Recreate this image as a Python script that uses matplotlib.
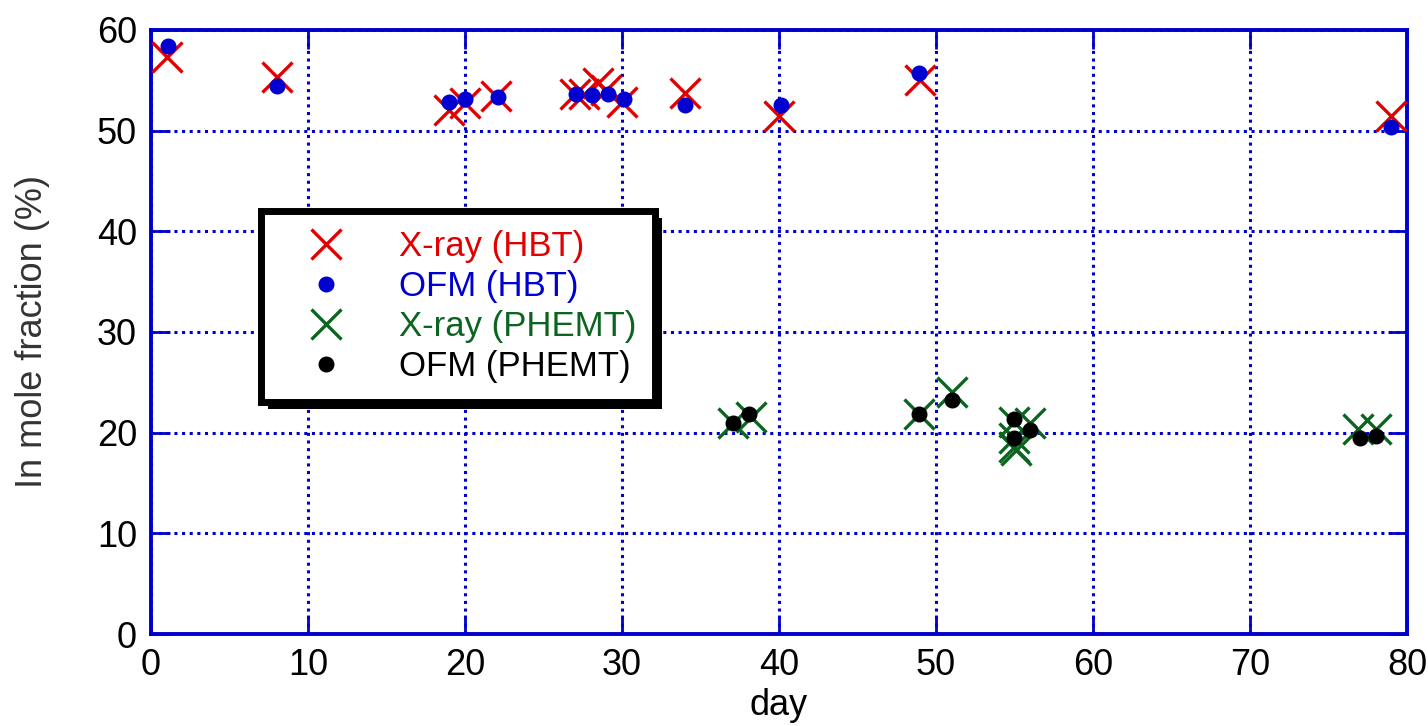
import matplotlib as mpl
mpl.use('Agg')
from matplotlib import pyplot as plt
from matplotlib.patches import Rectangle

plt.rcParams['font.family'] = ['Liberation Sans', 'DejaVu Sans']

# X-ray and OFM measurements of In mole fraction, HBT wafers
xray_hbt_day = [1, 8, 19, 20, 22, 27, 27.6, 28.5, 29, 30, 34, 40, 49, 79]
xray_hbt = [57.3, 55.3, 52.1, 52.7, 53.4, 53.6, 53.6, 54.7, 54.0, 52.8, 53.7, 51.5, 55.0, 51.5]
ofm_hbt_day = [1.1, 8, 19, 20, 22.1, 27.1, 28.1, 29.1, 30.1, 34, 40.1, 48.9, 79]
ofm_hbt = [58.4, 54.4, 52.8, 53.1, 53.3, 53.6, 53.5, 53.6, 53.1, 52.5, 52.5, 55.7, 50.4]

# PHEMT wafers
xray_phemt_day = [37.1, 38.2, 48.9, 51.0, 55.0, 56.0, 55.0, 55.0, 55.1, 76.9, 78.0]
xray_phemt = [21.0, 21.6, 21.9, 24.0, 21.1, 21.0, 19.5, 18.6, 18.3, 20.4, 20.4]
ofm_phemt_day = [37.1, 38.1, 48.9, 51.0, 55.0, 56.0, 55.0, 77.0, 78.0]
ofm_phemt = [21.0, 21.9, 21.9, 23.2, 21.4, 20.3, 19.5, 19.5, 19.7]

RED = '#e00000'
BLUE = '#0000d0'
GREEN = '#0b6420'
FRAME = '#0000cc'

fig = plt.figure(figsize=(14.28, 7.26), dpi=100)
ax = fig.add_axes([0.1057, 0.1267, 0.8796, 0.832])

ax.plot(xray_hbt_day, xray_hbt, 'x', color=RED, markersize=21, markeredgewidth=2.4,
        label='X-ray (HBT)', zorder=3)
ax.plot(ofm_hbt_day, ofm_hbt, 'o', color=BLUE, markersize=10.5, label='OFM (HBT)', zorder=4)
ax.plot(xray_phemt_day, xray_phemt, 'x', color=GREEN, markersize=21, markeredgewidth=2.4,
        label='X-ray (PHEMT)', zorder=3)
ax.plot(ofm_phemt_day, ofm_phemt, 'o', color='black', markersize=10.5, label='OFM (PHEMT)', zorder=4)

ax.set_xlim(0, 80)
ax.set_ylim(0, 60)
ax.set_xticks(range(0, 81, 10))
ax.set_yticks(range(0, 61, 10))
ax.grid(True, color=FRAME, linestyle=(0, (1, 1.5)), linewidth=2.2)
ax.tick_params(direction='in', length=14, width=2, color=FRAME, labelsize=26,
               top=True, right=True, pad=10)
for s in ax.spines.values():
    s.set_color(FRAME)
    s.set_linewidth(2.8)

ax.set_xlabel('day', fontsize=26, labelpad=4)
ax.set_ylabel('In mole fraction (%)', fontsize=26, labelpad=34, color='#333333')

leg = ax.legend(loc='upper left', bbox_to_anchor=(0.088, 0.70), fontsize=25,
                borderaxespad=0, fancybox=False, framealpha=1, edgecolor='black',
                borderpad=0.55, handletextpad=0.8, labelspacing=0.2, handlelength=2.6)
leg.get_frame().set_linewidth(5)
for txt, c in zip(leg.get_texts(), [RED, BLUE, GREEN, 'black']):
    txt.set_color(c)

# solid black drop shadow behind the legend box
fig.canvas.draw()
bb = leg.get_frame().get_window_extent()
shadow = Rectangle((bb.x0 + 7, bb.y0 - 7), bb.width, bb.height,
                   facecolor='black', edgecolor='none', zorder=leg.get_zorder() - 0.5)
ax.add_artist(shadow)
shadow.set_transform(mpl.transforms.IdentityTransform())

plt.savefig('out.png', dpi=100)
